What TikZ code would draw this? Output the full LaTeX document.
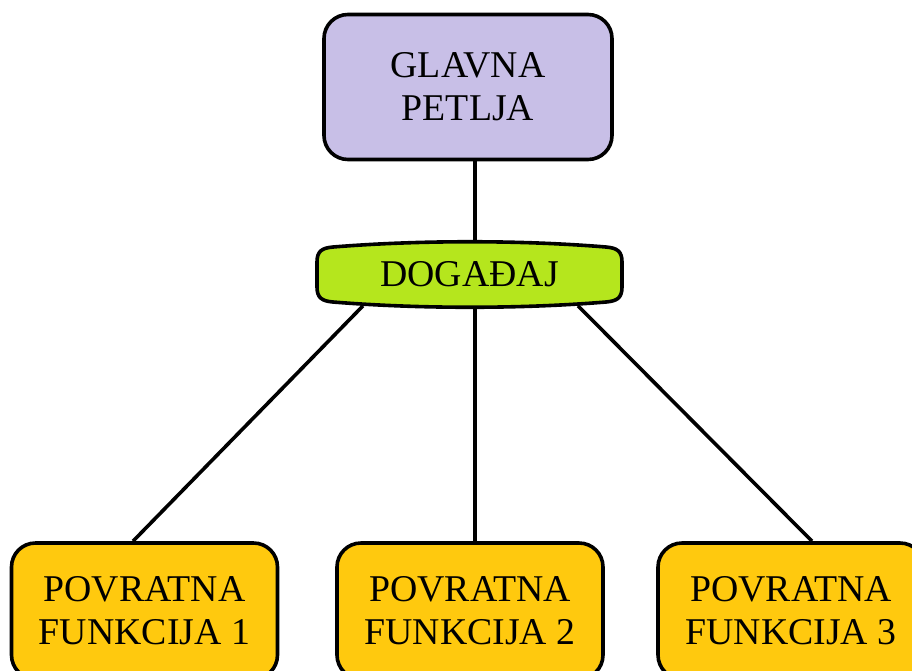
\documentclass[tikz,border=0pt]{standalone}
\usepackage{fontspec}
\setmainfont{Liberation Serif}
\definecolor{lavender}{HTML}{C8BFE7}
\definecolor{lime}{HTML}{B5E61D}
\definecolor{gold}{HTML}{FFC90E}
\begin{document}
\begin{tikzpicture}[x=1pt,y=-1pt,line width=3.6pt,
  txt/.style={font=\fontsize{37.8}{43}\selectfont,align=center,inner sep=0pt},
  loopbox/.style={txt,draw,fill=lavender,rounded corners=24pt,minimum width=288pt,minimum height=145pt},
  cbbox/.style={txt,draw,fill=gold,rounded corners=24pt,minimum width=266pt,minimum height=136pt}]
\useasboundingbox (0,0) rectangle (912,670);
\clip (0,0) rectangle (912,670);
\node[loopbox] (main) at (468,87) {GLAVNA\\PETLJA};
% event shape, slightly bulging top and bottom
\draw[fill=lime] (317,262) -- (317,287) .. controls (317,298) and (322,301) .. (333,302)
  .. controls (420,309) and (520,309) .. (606,302) .. controls (617,301) and (622,298) .. (622,287)
  -- (622,262) .. controls (622,251) and (617,248) .. (606,247)
  .. controls (520,240) and (420,240) .. (333,247) .. controls (322,248) and (317,251) .. (317,262) -- cycle;
\node[txt,minimum width=305pt,minimum height=65pt] (ev) at (469.5,274.5) {DOGAĐAJ};
\node[cbbox] (f1) at (144.5,611) {POVRATNA\\FUNKCIJA 1};
\node[cbbox] (f2) at (470,611) {POVRATNA\\FUNKCIJA 2};
\node[cbbox] (f3) at (791,611) {POVRATNA\\FUNKCIJA 3};
\draw ([xshift=7pt]main.south) -- ([xshift=5.5pt]ev.north);
\draw ([xshift=-106.5pt,yshift=3pt]ev.south) -- ([xshift=-11.5pt]f1.north);
\draw ([xshift=5.5pt]ev.south) -- ([xshift=5pt]f2.north);
\draw ([xshift=108.5pt,yshift=3pt]ev.south) -- ([xshift=21pt]f3.north);
\end{tikzpicture}
\end{document}
